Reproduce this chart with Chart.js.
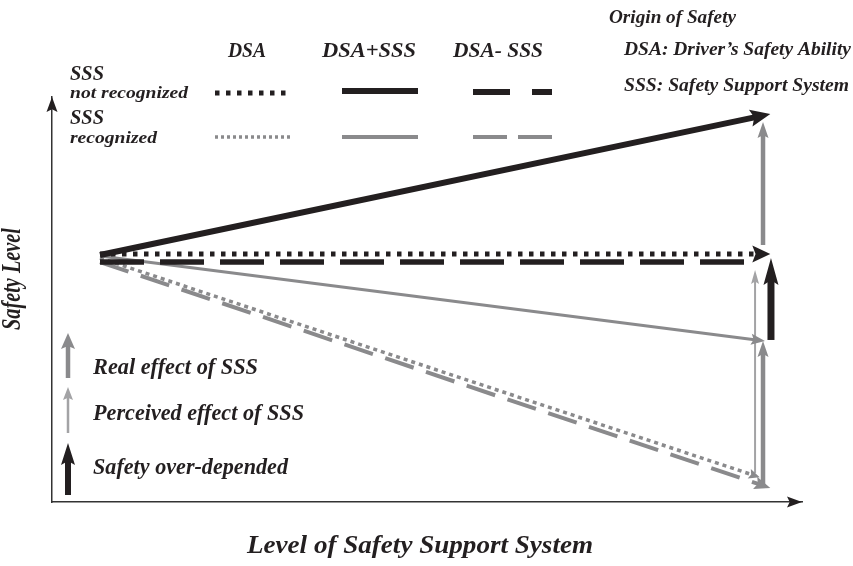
<!DOCTYPE html>
<html>
<head>
<meta charset="utf-8">
<script src="https://cdn.jsdelivr.net/npm/chart.js@4.4.1/dist/chart.umd.min.js"></script>
<style>
  body { margin: 0; background: #fff; }
  #wrap { width: 853px; height: 566px; }
</style>
</head>
<body>
<div id="wrap"><canvas id="chartSafety" width="853" height="566"></canvas></div>
<script>
// Lines leaving the origin of safety (x = level of SSS, y = safety level)
const lineNames = ["DSA", "DSA+SSS", "DSA- SSS"];
const notRecStartY = [0.021, 0.014, -0.035];
const notRecEndX = [1.011, 1.011, 0.977];
const notRecEndY = [0.021, 1.0, -0.035];
const recStartY = [-0.007, 0.007, -0.035];
const recEndX = [0.995, 1.003, 1.011];
const recEndY = [-1.54, -0.587, -1.615];

// Vertical effect arrows at the right
const effectNames = ["Real effect of SSS", "Real effect of SSS", "Perceived effect of SSS", "Safety over-depended"];
const effectX = [1.0, 1.0, 0.988, 1.012];
const effectFrom = [0.084, -1.608, -1.51, -0.58];
const effectTo = [0.944, -0.587, -0.09, -0.007];

const BLACK = "#231f20";
const GRAY = "#8a8a8c";
const LIGHT = "#a3a3a5";
const FONT = '"Liberation Serif", "DejaVu Serif", serif';

// styles
const notRecStyle = [
  { dash: [4.5, 6.5], w: 5, arrow: { len: 18, w: 17 } },
  { dash: [], w: 6, arrow: { len: 20, w: 17 } },
  { dash: [44, 16], w: 5.5, arrow: null },
];
const recStyle = [
  { dash: [4, 4], w: 3.5, arrow: { len: 11, w: 10 } },
  { dash: [], w: 3, arrow: { len: 14, w: 11 } },
  { dash: [30, 13], w: 4, arrow: { len: 16, w: 13 } },
];
const effectStyle = [
  { color: GRAY, w: 4.5, arrow: { len: 16, w: 11 } },
  { color: GRAY, w: 4.5, arrow: { len: 16, w: 11 } },
  { color: LIGHT, w: 2, arrow: { len: 14, w: 8 } },
  { color: BLACK, w: 7, arrow: { len: 27, w: 15 } },
];

const datasets = [];
effectNames.forEach((name, i) => {
  datasets.push({
    label: name,
    data: [{ x: effectX[i], y: effectFrom[i] }, { x: effectX[i], y: effectTo[i] }],
    borderColor: effectStyle[i].color,
    borderWidth: effectStyle[i].w,
    arrow: effectStyle[i].arrow,
  });
});
lineNames.forEach((name, i) => {
  datasets.push({
    label: name + " (SSS not recognized)",
    data: [{ x: 0, y: notRecStartY[i] }, { x: notRecEndX[i], y: notRecEndY[i] }],
    borderColor: BLACK,
    borderWidth: notRecStyle[i].w,
    borderDash: notRecStyle[i].dash,
    arrow: notRecStyle[i].arrow,
  });
});
lineNames.forEach((name, i) => {
  datasets.push({
    label: name + " (SSS recognized)",
    data: [{ x: 0, y: recStartY[i] }, { x: recEndX[i], y: recEndY[i] }],
    borderColor: GRAY,
    borderWidth: recStyle[i].w,
    borderDash: recStyle[i].dash,
    arrow: recStyle[i].arrow,
  });
});

const head = (ctx, tx, ty, ang, len, w, color) => {
  const c = Math.cos(ang), s = Math.sin(ang);
  const bx = tx - c * len, by = ty - s * len;
  const nx = tx - c * len * 0.82, ny = ty - s * len * 0.82;
  ctx.fillStyle = color;
  ctx.beginPath();
  ctx.moveTo(tx, ty);
  ctx.lineTo(bx - s * w / 2, by + c * w / 2);
  ctx.lineTo(nx, ny);
  ctx.lineTo(bx + s * w / 2, by - c * w / 2);
  ctx.closePath();
  ctx.fill();
};

const arrowUp = (ctx, x, y1, tip, lw, color, len, w) => {
  ctx.save();
  ctx.strokeStyle = color;
  ctx.lineWidth = lw;
  ctx.beginPath();
  ctx.moveTo(x, y1);
  ctx.lineTo(x, tip + len * 0.75);
  ctx.stroke();
  head(ctx, x, tip, -Math.PI / 2, len, w, color);
  ctx.restore();
};

const txt = (ctx, s, x, y, size, width, align) => {
  ctx.save();
  ctx.font = `italic bold ${size}px ${FONT}`;
  ctx.fillStyle = BLACK;
  ctx.textAlign = align || "left";
  ctx.textBaseline = "alphabetic";
  const m = ctx.measureText(s).width;
  ctx.translate(x, y);
  ctx.scale(width / m, 1);
  ctx.fillText(s, 0, 0);
  ctx.restore();
};

const sample = (ctx, x1, x2, y, color, lw, dash) => {
  ctx.save();
  ctx.strokeStyle = color;
  ctx.lineWidth = lw;
  ctx.setLineDash(dash);
  ctx.beginPath();
  ctx.moveTo(x1, y);
  ctx.lineTo(x2, y);
  ctx.stroke();
  ctx.restore();
};

const arrowPlugin = {
  id: "arrows",
  afterDatasetsUpdate(chart) {
    chart.data.datasets.forEach((ds, i) => {
      if (!ds.arrow) return;
      const meta = chart.getDatasetMeta(i);
      const pts = meta.data;
      const a = pts[pts.length - 2], b = pts[pts.length - 1];
      const ang = Math.atan2(b.y - a.y, b.x - a.x);
      meta.$tip = { x: b.x, y: b.y, ang: ang };
      b.x -= Math.cos(ang) * ds.arrow.len * 0.75;
      b.y -= Math.sin(ang) * ds.arrow.len * 0.75;
    });
  },
  afterDatasetsDraw(chart) {
    const ctx = chart.ctx;
    const ca = chart.chartArea;
    for (let i = chart.data.datasets.length - 1; i >= 0; i--) {
      const ds = chart.data.datasets[i];
      const t = chart.getDatasetMeta(i).$tip;
      if (!ds.arrow || !t) continue;
      head(ctx, t.x, t.y, t.ang, ds.arrow.len, ds.arrow.w, ds.borderColor);
    }
    // axis arrowheads
    head(ctx, ca.left, ca.top, -Math.PI / 2, 15, 11, BLACK);
    head(ctx, ca.right, ca.bottom, 0, 15, 11, BLACK);
  },
  afterDraw(chart) {
    const ctx = chart.ctx;
    // axis titles
    txt(ctx, "Level of Safety Support System", 420, 553, 26, 346, "center");
    ctx.save();
    ctx.translate(20, 279);
    ctx.rotate(-Math.PI / 2);
    txt(ctx, "Safety Level", 0, 0, 27, 102, "center");
    ctx.restore();

    // origin notes
    txt(ctx, "Origin of Safety", 609, 23, 18, 127);
    txt(ctx, "DSA: Driver\u2019s Safety Ability", 624, 55, 18, 227);
    txt(ctx, "SSS: Safety Support System", 624, 91, 18, 225);

    // line legend
    txt(ctx, lineNames[0], 228, 57, 21, 38);
    txt(ctx, lineNames[1], 322, 57, 21, 94);
    txt(ctx, lineNames[2], 453, 57, 21, 90);
    txt(ctx, "SSS", 70, 80, 21, 34);
    txt(ctx, "not recognized", 70, 98, 17, 118);
    txt(ctx, "SSS", 70, 124, 21, 34);
    txt(ctx, "recognized", 70, 143, 17, 87);

    sample(ctx, 215, 288, 93, BLACK, 5, [4.5, 6.5]);
    sample(ctx, 342, 418, 91, BLACK, 6, []);
    sample(ctx, 473, 510, 92, BLACK, 6, []);
    sample(ctx, 532, 552, 92, BLACK, 6, []);
    sample(ctx, 215, 291, 137, GRAY, 3.5, [3, 3]);
    sample(ctx, 342, 418, 137, GRAY, 4, []);
    sample(ctx, 473, 507, 137, GRAY, 4, []);
    sample(ctx, 518, 552, 137, GRAY, 4, []);

    // effect legend
    arrowUp(ctx, 68, 378, 333, 4.5, GRAY, 16, 14);
    arrowUp(ctx, 68, 433, 387, 2.5, LIGHT, 13, 10);
    arrowUp(ctx, 68, 495, 443, 6, BLACK, 22, 14);
    txt(ctx, effectNames[0], 93, 374, 23, 165);
    txt(ctx, effectNames[2], 93, 420, 23, 211);
    txt(ctx, effectNames[3], 93, 474, 23, 195);
  },
};

const ctx = document.getElementById("chartSafety").getContext("2d");
const chartSafety = new Chart(ctx, {
  type: "scatter",
  data: { datasets: datasets },
  options: {
    responsive: false,
    animation: false,
    events: [],
    showLine: true,
    elements: {
      point: { radius: 0, hoverRadius: 0 },
      line: { tension: 0, borderCapStyle: "butt", fill: false },
    },
    layout: { padding: { left: 52, right: 51, top: 97, bottom: 64 } },
    scales: {
      x: {
        type: "linear",
        min: -0.0724,
        max: 1.0588,
        grid: { display: false, drawTicks: false },
        ticks: { display: false },
        border: { display: true, color: "#333", width: 1.5 },
      },
      y: {
        type: "linear",
        min: -1.713,
        max: 1.119,
        grid: { display: false, drawTicks: false },
        ticks: { display: false },
        border: { display: true, color: "#333", width: 1.5 },
      },
    },
    plugins: {
      legend: { display: false },
      tooltip: { enabled: false },
    },
  },
  plugins: [arrowPlugin],
});
</script>
</body>
</html>
